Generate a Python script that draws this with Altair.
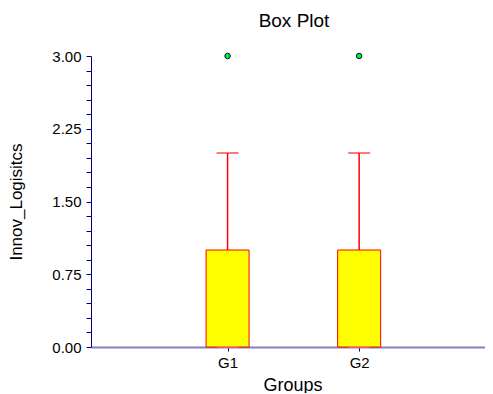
import json
import altair as alt
import pandas as pd

# ---- data ----
groups = ["G1", "G2"]
group_pos = [1, 2]
q1 = [0.0, 0.0]
median = [0.0, 0.0]
q3 = [1.0, 1.0]
whisker_low = [0.0, 0.0]
whisker_high = [2.0, 2.0]
outlier_group = ["G1", "G2"]
outlier_value = [3.0, 3.0]
y_major = [0.0, 0.75, 1.5, 2.25, 3.0]
y_ticks = [0.0, 0.15, 0.3, 0.45, 0.6, 0.75, 0.9, 1.05, 1.2, 1.35, 1.5,
           1.65, 1.8, 1.95, 2.1, 2.25, 2.4, 2.55, 2.7, 2.85, 3.0]

box_df = pd.DataFrame({
    "group": groups, "pos": group_pos, "q1": q1, "median": median,
    "q3": q3, "lo": whisker_low, "hi": whisker_high,
})
pos_of = dict(zip(groups, group_pos))
out_df = pd.DataFrame({
    "group": outlier_group,
    "pos": [pos_of[g] for g in outlier_group],
    "value": outlier_value,
})

FONT = "Liberation Sans"
RED = "#ff0000"
NAVY = "#000080"

label_expr = json.dumps(groups) + "[datum.value - 1]"
x_scale = alt.Scale(domain=[0, 2.9185], nice=False, zero=False)
x_axis = alt.Axis(
    values=group_pos, labelExpr=label_expr, grid=False,
    domainColor="#8080c0", domainWidth=2,
    tickColor=NAVY, tickSize=4, tickWidth=1,
    labelFont=FONT, labelFontSize=15, labelColor="black", labelPadding=4,
    labelFlush=False, labelOverlap=False,
    title="Groups", titleFont=FONT, titleFontSize=18, titleFontWeight="normal",
    titleColor="black", titleBaseline="alphabetic", titleY=43, titleX=201.5,
)

major_test = "(" + " || ".join(f"abs(datum.value - {v}) < 0.001" for v in y_major) + ")"
y_scale = alt.Scale(domain=[0, 3], nice=False, zero=True)
y_axis = alt.Axis(
    values=y_ticks,
    labelExpr=major_test + " ? format(datum.value, '.2f') : ''",
    grid=False, domainColor=NAVY, domainWidth=1,
    tickColor=NAVY, tickSize=5, tickWidth=1,
    labelFont=FONT, labelFontSize=15, labelColor="black", labelPadding=5,
    labelFlush=False, labelOverlap=False,
    title="Innov_Logisitcs", titleFont=FONT, titleFontSize=17,
    titleFontWeight="normal", titleColor="black",
    titleBaseline="alphabetic", titleX=-70, titleY=145.5, titleAngle=270,
)


def X():
    return alt.X("pos:Q", scale=x_scale, axis=x_axis)


def Y(field):
    return alt.Y(field, scale=y_scale, axis=y_axis)


base = alt.Chart(box_df)

whisker_up = base.mark_rule(color=RED, strokeWidth=1.5).encode(
    x=X(), y=Y("q3:Q"), y2="hi:Q")
whisker_dn = base.mark_rule(color=RED, strokeWidth=1.5).encode(
    x=X(), y=Y("lo:Q"), y2="q1:Q")
box = base.mark_bar(size=43, fill="#ffff00", stroke=RED, strokeWidth=1).encode(
    x=X(), y=Y("q1:Q"), y2="q3:Q")
cap_hi = base.mark_tick(orient="horizontal", size=22, thickness=1.5, color=RED).encode(
    x=X(), y=Y("hi:Q"))
med = base.mark_tick(orient="horizontal", size=21, thickness=1.5, color="#ff8080").encode(
    x=X(), y=Y("median:Q"))
outl = alt.Chart(out_df).mark_circle(
    size=30, color="#00ff00", stroke=NAVY, strokeWidth=1, opacity=1
).encode(x=X(), y=Y("value:Q"))

chart = alt.layer(whisker_up, whisker_dn, box, cap_hi, med, outl).properties(
    width=394, height=291,
    background="white",
    title=alt.TitleParams(
        "Box Plot", font=FONT, fontSize=19, fontWeight="normal", color="black",
        anchor="middle", frame="group", baseline="alphabetic", offset=3, dx=6,
    ),
    autosize=alt.AutoSizeParams(type="none"),
    padding={"left": 83, "top": 48, "right": 0, "bottom": 46},
).configure_view(stroke=None)

chart.save("out.html", embed_options={"renderer": "svg", "actions": False})
